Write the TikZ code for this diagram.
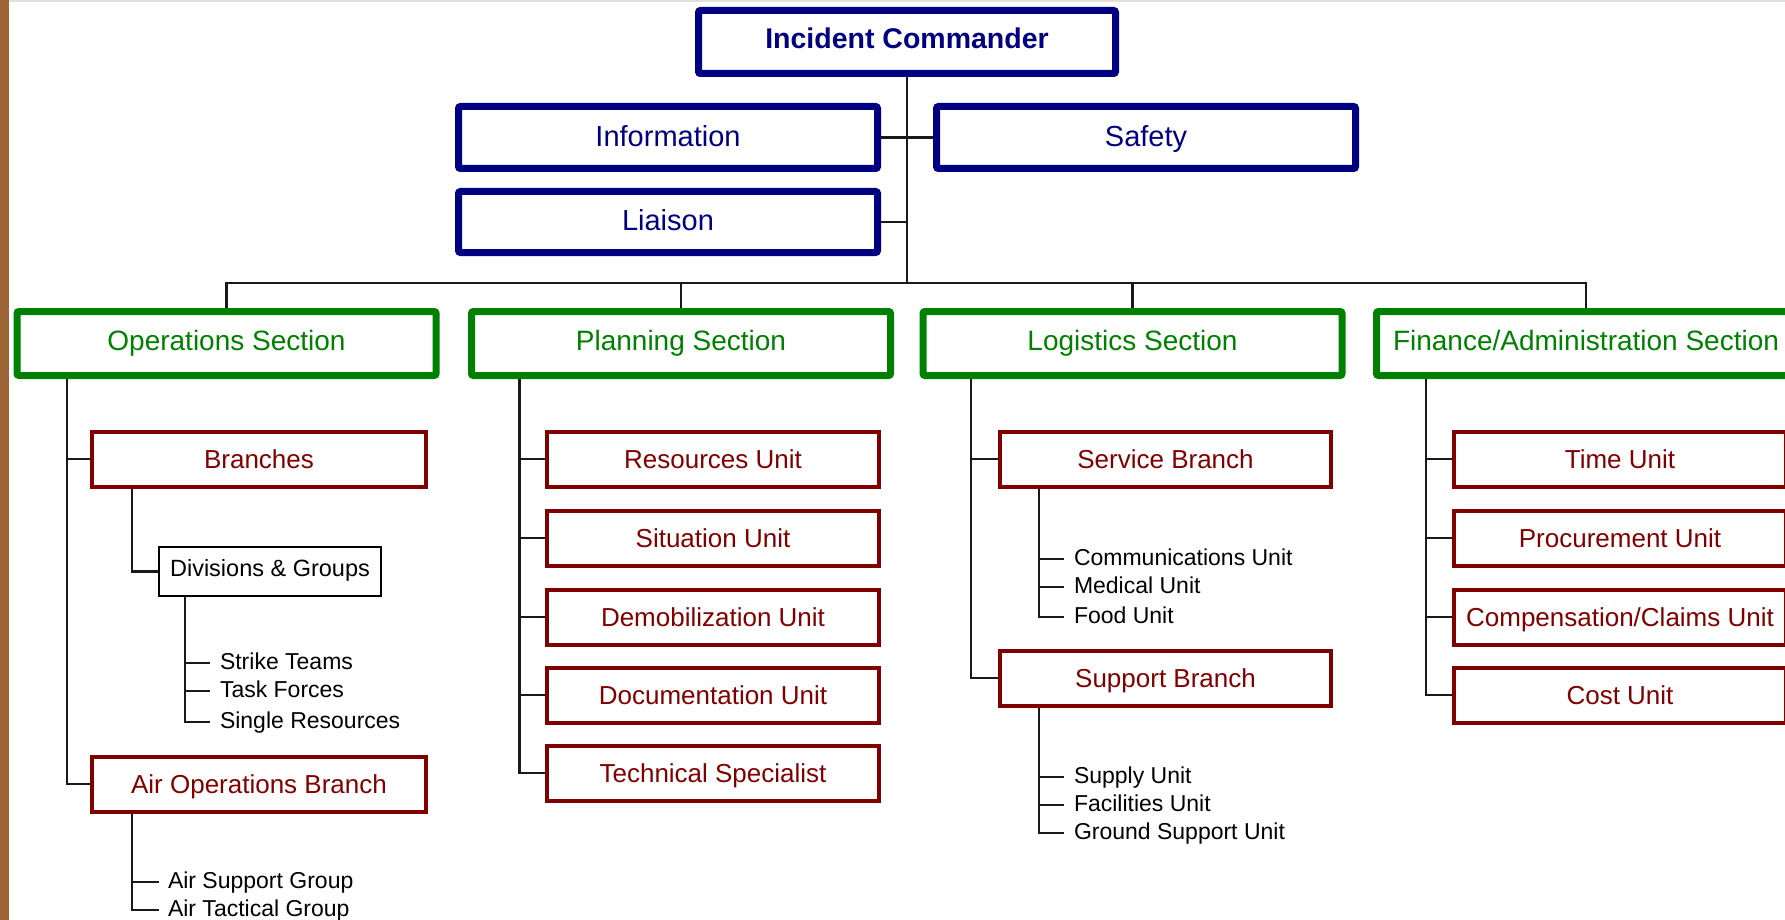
\documentclass[tikz,border=0pt]{standalone}
\usepackage{fontspec}
\setmainfont{Liberation Sans}
\definecolor{navyc}{HTML}{000080}
\definecolor{greenc}{HTML}{008000}
\definecolor{maroonc}{HTML}{800000}
\definecolor{stripc}{HTML}{9C6434}
\definecolor{topgray}{HTML}{E2E0DA}
\tikzset{
  lead/.style={draw=navyc, line width=7pt, rounded corners=2pt, fill=white, inner sep=0pt,
    text=navyc, font=\fontsize{29}{34}\selectfont, text height=17.5pt, text depth=0pt,
    minimum width=419pt, minimum height=62pt},
  sect/.style={draw=greenc, line width=7pt, rounded corners=2pt, fill=white, inner sep=0pt,
    text=greenc, font=\fontsize{28}{33}\selectfont, text height=14.5pt, text depth=0pt,
    minimum width=419pt, minimum height=64pt},
  unitbox/.style={draw=maroonc, line width=4pt, fill=white, inner sep=0pt,
    text=maroonc, font=\fontsize{26}{31}\selectfont, text height=18pt, text depth=0pt,
    minimum width=332pt, minimum height=55pt},
  plainbox/.style={draw=black, line width=2.5pt, fill=white, inner sep=0pt,
    text=black, font=\fontsize{23.5}{28}\selectfont, text height=10.5pt, text depth=0pt,
    minimum width=222pt, minimum height=49pt},
  leaf/.style={anchor=west, inner xsep=10pt, inner ysep=0pt, outer sep=0pt,
    font=\fontsize{23}{28}\selectfont, text height=12pt, text depth=0pt},
  conn/.style={draw=black!90, line width=2.5pt},
}
\begin{document}
\begin{tikzpicture}[x=1pt,y=-1pt]
\useasboundingbox (0,0) rectangle (1785,920);
\fill[white] (0,0) rectangle (1785,920);
\fill[stripc] (0,0) rectangle (9,920);
\fill[topgray] (9,0) rectangle (1785,2.2);

% trunk coordinates
\coordinate (bus) at (907,283);
\coordinate (tOps) at (67,0);
\coordinate (tBr) at (132,0);
\coordinate (tDiv) at (185,0);
\coordinate (tPlan) at (519.5,0);
\coordinate (tLog) at (971,0);
\coordinate (tSvc) at (1039,0);
\coordinate (tFin) at (1426,0);

% command staff
\node[lead, minimum width=417pt, minimum height=63pt, font=\fontsize{28.5}{34}\bfseries, text height=14pt] (ic) at (907,42) {Incident Commander};
\node[lead] (info) at (668,137.5) {Information};
\node[lead] (safety) at (1146,137.5) {Safety};
\node[lead, minimum height=61pt] (liaison) at (668,222) {Liaison};

% sections
\node[sect] (ops) at (226.5,343.5) {Operations Section};
\node[sect] (plan) at (681,343.5) {Planning Section};
\node[sect] (logi) at (1132.5,343.5) {Logistics Section};
\node[sect] (fin) at (1586,343.5) {Finance/Administration Section};

% operations
\node[unitbox, minimum width=334pt] (br) at (259,459) {Branches};
\node[unitbox, minimum width=334pt] (air) at (259,784) {Air Operations Branch};
\node[plainbox] (divs) at (270,571.5) {Divisions \& Groups};
\node[leaf] (st) at (210,663) {Strike Teams};
\node[leaf] (tf) at (210,691) {Task Forces};
\node[leaf] (sr) at (210,722) {Single Resources};
\node[leaf, inner xsep=9pt] (asg) at (159,882) {Air Support Group};
\node[leaf, inner xsep=9pt] (atg) at (159,910) {Air Tactical Group};

% planning
\node[unitbox] (res) at (713,459) {Resources Unit};
\node[unitbox] (sit) at (713,538) {Situation Unit};
\node[unitbox] (demob) at (713,617) {Demobilization Unit};
\node[unitbox] (doc) at (713,695) {Documentation Unit};
\node[unitbox] (ts) at (713,773) {Technical Specialist};

% logistics
\node[unitbox, minimum width=331pt] (svc) at (1165.5,459) {Service Branch};
\node[unitbox, minimum width=331pt] (sup) at (1165.5,678) {Support Branch};
\node[leaf] (comm) at (1064,559) {Communications Unit};
\node[leaf] (med) at (1064,587) {Medical Unit};
\node[leaf] (food) at (1064,617) {Food Unit};
\node[leaf] (supply) at (1064,777) {Supply Unit};
\node[leaf] (fac) at (1064,805) {Facilities Unit};
\node[leaf] (gsu) at (1064,833) {Ground Support Unit};

% finance
\node[unitbox] (time) at (1620,459) {Time Unit};
\node[unitbox] (proc) at (1620,538) {Procurement Unit};
\node[unitbox] (comp) at (1620,617) {Compensation/Claims Unit};
\node[unitbox] (cost) at (1620,695) {Cost Unit};

% connectors: command
\draw[conn] (ic.south) -- (bus);
\draw[conn] (info.east) -- (safety.west);
\draw[conn] (liaison.east) -- (liaison.east -| ic.south);
\draw[conn] (ops.north) |- (bus) -| (fin.north);
\draw[conn] (plan.north) -- (plan.north |- bus);
\draw[conn] (logi.north) -- (logi.north |- bus);

% operations
\draw[conn] (ops.south -| tOps) |- (air.west);
\draw[conn] (tOps |- br.west) -- (br.west);
\draw[conn] (br.south -| tBr) |- (divs.west);
\draw[conn] (divs.south -| tDiv) |- (sr.west);
\draw[conn] (tDiv |- st.west) -- (st.west);
\draw[conn] (tDiv |- tf.west) -- (tf.west);
\draw[conn] (air.south -| tBr) |- (atg.west);
\draw[conn] (tBr |- asg.west) -- (asg.west);

% planning
\draw[conn] (plan.south -| tPlan) |- (ts.west);
\draw[conn] (tPlan |- res.west) -- (res.west);
\draw[conn] (tPlan |- sit.west) -- (sit.west);
\draw[conn] (tPlan |- demob.west) -- (demob.west);
\draw[conn] (tPlan |- doc.west) -- (doc.west);

% logistics
\draw[conn] (logi.south -| tLog) |- (sup.west);
\draw[conn] (tLog |- svc.west) -- (svc.west);
\draw[conn] (svc.south -| tSvc) |- (food.west);
\draw[conn] (tSvc |- comm.west) -- (comm.west);
\draw[conn] (tSvc |- med.west) -- (med.west);
\draw[conn] (sup.south -| tSvc) |- (gsu.west);
\draw[conn] (tSvc |- supply.west) -- (supply.west);
\draw[conn] (tSvc |- fac.west) -- (fac.west);

% finance
\draw[conn] (fin.south -| tFin) |- (cost.west);
\draw[conn] (tFin |- time.west) -- (time.west);
\draw[conn] (tFin |- proc.west) -- (proc.west);
\draw[conn] (tFin |- comp.west) -- (comp.west);
\end{tikzpicture}
\end{document}
